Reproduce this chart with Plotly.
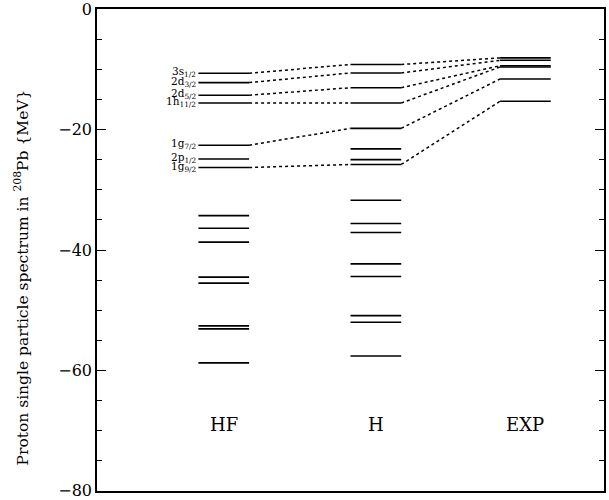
import plotly.graph_objects as go

# ---- data (MeV) ----
columns = ["HF", "H", "EXP"]
col_x0 = [2.0, 5.0, 7.95]
col_x1 = [3.0, 6.0, 8.95]

hf_levels = [-10.65, -12.2, -14.3, -15.6, -22.6, -24.9, -26.3,
             -34.3, -36.4, -38.7, -44.5, -45.5, -52.6, -53.1, -58.75]
h_levels = [-9.2, -10.6, -13.05, -15.6, -19.8, -23.2, -25.0, -25.8,
            -31.75, -35.6, -37.1, -42.3, -44.4, -50.9, -52.0, -57.6]
exp_levels = [-8.1, -8.5, -9.4, -9.6, -11.6, -15.3]

state_labels = ["3s<sub>1/2</sub>", "2d<sub>3/2</sub>", "2d<sub>5/2</sub>",
                "1h<sub>11/2</sub>", "1g<sub>7/2</sub>", "2p<sub>1/2</sub>",
                "1g<sub>9/2</sub>"]
label_hf_idx = [0, 1, 2, 3, 4, 5, 6]

# connected states: (HF index, H index, EXP index)
conn_hf_idx = [0, 1, 2, 3, 4, 6]
conn_h_idx = [0, 1, 2, 3, 4, 7]
conn_exp_idx = [0, 1, 2, 3, 4, 5]

y_ticks = [0, -20, -40, -60, -80]
y_title = "Proton single particle spectrum in <sup>208</sup>Pb {MeV}"

serif = "DejaVu Serif"
fig = go.Figure()

all_levels = [hf_levels, h_levels, exp_levels]
for ci, levels in enumerate(all_levels):
    xs, ys = [], []
    for e in levels:
        xs += [col_x0[ci], col_x1[ci], None]
        ys += [e, e, None]
    fig.add_trace(go.Scatter(x=xs, y=ys, mode="lines",
                             line=dict(color="black", width=1.6),
                             showlegend=False, hoverinfo="skip"))

# dotted connectors
xs, ys = [], []
for a, b, c in zip(conn_hf_idx, conn_h_idx, conn_exp_idx):
    xs += [col_x1[0], col_x0[1], None, col_x1[1], col_x0[2], None]
    ys += [hf_levels[a], h_levels[b], None, h_levels[b], exp_levels[c], None]
fig.add_trace(go.Scatter(x=xs, y=ys, mode="lines",
                         line=dict(color="black", width=1.5, dash="dot"),
                         showlegend=False, hoverinfo="skip"))

# state labels
for lab, idx in zip(state_labels, label_hf_idx):
    fig.add_annotation(x=col_x0[0] - 0.03, y=hf_levels[idx], text=lab,
                       showarrow=False, xanchor="right", yanchor="middle",
                       yshift=1, borderpad=0,
                       font=dict(family=serif, size=10.5, color="black"))

# column labels
for name, x0, x1 in zip(columns, col_x0, col_x1):
    fig.add_annotation(x=(x0 + x1) / 2, y=-69, text=name, showarrow=False,
                       xanchor="center", yanchor="middle",
                       font=dict(family=serif, size=18, color="black"))

# y-axis title
fig.add_annotation(xref="paper", yref="paper", x=-0.148, y=0.443,
                   text=y_title, textangle=-90, showarrow=False,
                   xanchor="center", yanchor="middle",
                   font=dict(family=serif, size=15.5, color="black"))

fig.update_xaxes(range=[0, 10], showticklabels=False, ticks="",
                 showgrid=False, zeroline=False, showline=True,
                 mirror=True, linecolor="black", linewidth=1.5)
fig.update_yaxes(range=[-80.02, 0.02], tickvals=y_ticks, ticks="inside",
                 ticklen=9, tickwidth=1.2, tickcolor="black",
                 ticklabeloverflow="allow",
                 minor=dict(dtick=5, ticks="inside", ticklen=5,
                            tickwidth=1, tickcolor="black"),
                 showgrid=False, zeroline=False, showline=True,
                 mirror="allticks", linecolor="black", linewidth=1.5,
                 tickfont=dict(family=serif, size=16, color="black"))

fig.update_layout(width=609, height=500, plot_bgcolor="white",
                  paper_bgcolor="white",
                  margin=dict(l=97, r=5, t=9, b=9, autoexpand=False))

fig.write_html("out.html")
